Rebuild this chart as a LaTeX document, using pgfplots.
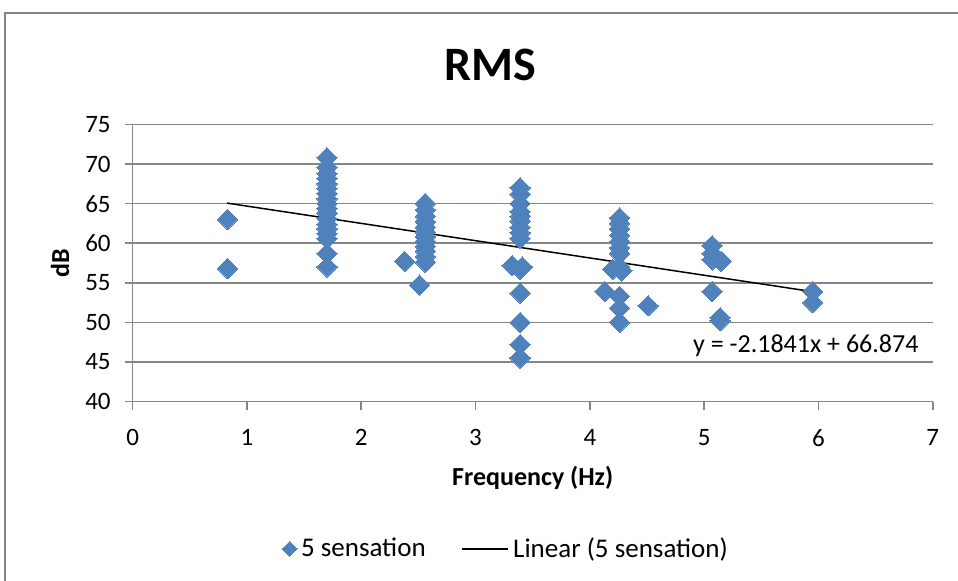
\documentclass[border=0pt]{standalone}
\usepackage{pgfplots}
\pgfplotsset{compat=1.18}
\usepackage{pgfplotstable}
\usepackage{fontspec}
\setmainfont{Carlito}
\definecolor{xlblue}{HTML}{4F81BD}
\definecolor{xlgrid}{HTML}{868686}
\pgfplotstableread{
x y
0.83 63.0
0.83 56.8
1.70 70.8
1.70 69.6
1.70 68.8
1.70 68.2
1.70 67.5
1.70 66.9
1.70 66.3
1.70 65.6
1.70 65.0
1.70 64.4
1.70 63.8
1.70 63.1
1.70 62.4
1.70 61.8
1.70 61.2
1.70 60.6
1.70 58.7
1.70 57.0
2.38 57.7
2.51 54.7
2.56 65.0
2.56 64.2
2.56 63.4
2.56 62.7
2.56 62.0
2.56 61.4
2.56 60.8
2.56 60.2
2.56 59.6
2.56 59.0
2.56 58.3
2.56 57.6
3.32 57.2
3.39 67.0
3.39 66.2
3.39 65.0
3.39 64.0
3.39 63.4
3.39 62.8
3.39 62.0
3.39 61.3
3.39 60.6
3.41 57.0
3.39 56.7
3.39 53.7
3.39 50.0
3.39 47.2
3.39 45.5
4.13 53.9
4.20 56.7
4.26 63.2
4.26 62.5
4.26 61.8
4.26 61.0
4.26 60.2
4.26 59.4
4.26 58.7
4.26 57.0
4.28 56.5
4.26 53.3
4.26 51.8
4.26 50.0
4.51 52.1
5.07 59.7
5.07 58.7
5.07 57.9
5.15 57.7
5.07 53.9
5.14 50.6
5.14 50.2
5.95 53.9
5.95 52.5
}\sensation
\pgfplotstableread{
x y
0.826 65.070
5.95 53.879
}\trend
\begin{document}
\begin{tikzpicture}
\useasboundingbox (0,0) rectangle (479pt,290pt);
\draw[xlgrid, line width=1pt] (2.5pt,-2pt) -- (2.5pt,283.5pt) -- (482pt,283.5pt);
\node[font=\fontsize{24}{28}\selectfont\bfseries] at (245pt,257.5pt) {RMS};
\begin{axis}[
  at={(66.35pt,89.25pt)}, anchor=south west,
  scale only axis, width=400pt, height=138.5pt,
  xmin=0, xmax=7, ymin=40, ymax=75,
  xtick={0,1,...,7}, ytick={40,45,...,75},
  axis x line*=bottom, axis y line*=left,
  axis line style={xlgrid, line width=0.8pt, -},
  tick style={xlgrid, line width=0.8pt},
  tick align=outside, major tick length=4pt,
  ymajorgrids, major grid style={xlgrid, line width=0.8pt},
  /pgf/number format/assume math mode=true,
  ticklabel style={font=\fontsize{12.5}{14}\selectfont},
  yticklabel style={xshift=-3.5pt},
  xticklabel style={yshift=-6.5pt},
  xlabel={Frequency (Hz)}, ylabel={dB},
  label style={font=\fontsize{13}{15}\selectfont\bfseries},
  xlabel style={at={(axis description cs:0.5,-0.276)}, anchor=center},
  ylabel style={at={(axis description cs:-0.0909,0.5)}, anchor=center},
  clip=false,
  legend columns=2,
  legend style={at={(axis description cs:0.468,-0.532)}, anchor=center, draw=none,
    font=\fontsize{13.5}{15}\selectfont, /tikz/every even column/.append style={column sep=16pt}},
]
\addplot[only marks, mark=square*, mark size=3.6pt, mark options={rotate=45, fill=xlblue, draw=xlblue, line width=0pt},
  legend image code/.code={\draw[mark=square*, mark size=2.6pt, mark options={rotate=45, fill=xlblue, draw=xlblue, line width=0pt}] plot coordinates {(2pt,0pt)};}] table[x=x, y=y] {\sensation};
\addlegendentry{5 sensation}
\addplot[black, line width=0.75pt, legend image code/.code={\draw[black, line width=0.75pt] (0pt,0pt) -- (23pt,0pt);}] table[x=x, y=y] {\trend};
\addlegendentry{Linear (5 sensation)}
\node[font=\fontsize{13}{15}\selectfont] at (axis cs:5.89,47.0) {y = -2.1841x + 66.874};
\end{axis}
\end{tikzpicture}
\end{document}
